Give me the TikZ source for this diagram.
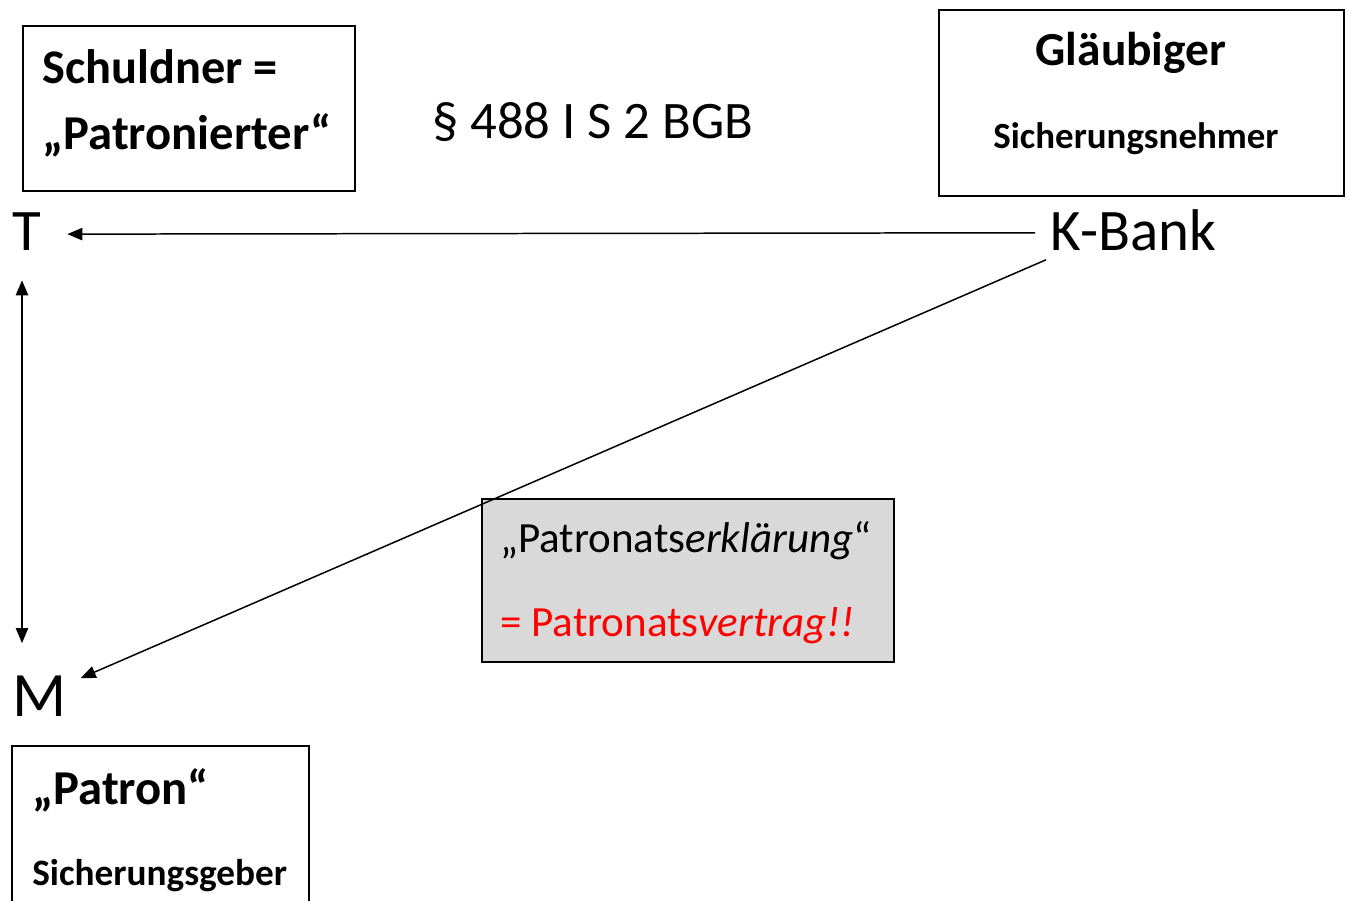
\documentclass[tikz,border=0pt]{standalone}
\usepackage{fontspec}
\setmainfont{Carlito}
\usetikzlibrary{arrows.meta,calc}

\begin{document}
\begin{tikzpicture}[x=0.02cm,y=-0.02cm,
  box/.style={draw,line width=1.1pt,inner sep=0pt,anchor=north west},
  txt/.style={inner sep=0pt,anchor=base west},
  pfeil/.style={line width=0.85pt,-{Triangle[length=8.5pt,width=7pt]}}]
\def\px{0.02cm}
\clip (0,0) rectangle (1348,900);

\node[box,minimum width=332*\px,minimum height=165*\px] (schuldnerbox) at (22,25) {};
\node[txt,font=\fontsize{27.5}{32}\selectfont\bfseries] (schuldner) at (42,83) {Schuldner =};
\node[txt,font=\fontsize{27.7}{32}\selectfont\bfseries] (patronierter) at (42,149) {„Patronierter“};

\node[txt,font=\fontsize{30}{36}\selectfont] (norm) at (432,138) {§ 488 I S 2 BGB};

\node[box,minimum width=405*\px,minimum height=186*\px] (glaeubigerbox) at (938,9) {};
\node[inner sep=0pt,anchor=base,font=\fontsize{27}{32}\selectfont\bfseries] (glaeubiger) at (1131,65) {Gläubiger};
\node[inner sep=0pt,anchor=base,font=\fontsize{21}{25}\selectfont\bfseries] (nehmer) at (1136,148) {Sicherungsnehmer};

\node[txt,font=\fontsize{33.5}{40}\selectfont] (T) at (12,250) {T};
\node[txt,font=\fontsize{33.5}{40}\selectfont] (kbank) at (1050,250) {K-Bank};
\node[txt,font=\fontsize{36}{42}\selectfont] (M) at (12,716) {M};

\node[box,fill=black!15,minimum width=412*\px,minimum height=163*\px] (erklaerungbox) at (481,498) {};
\node[txt,font=\fontsize{24.5}{30}\selectfont] (erklaerung) at (500,552) {„Patronats\textit{erklärung}“};
\node[txt,font=\fontsize{24.5}{30}\selectfont,text=red] (vertrag) at (500,636) {= Patronats\textit{vertrag!!}};

\node[box,minimum width=297*\px,minimum height=200*\px] (patronbox) at (11,745) {};
\node[txt,font=\fontsize{27.7}{32}\selectfont\bfseries] (patron) at (32,804) {„Patron“};
\node[txt,font=\fontsize{21.2}{25}\selectfont\bfseries] (geber) at (32,885) {Sicherungsgeber};

\draw[pfeil] ($(kbank.west)+(-15,3)$) -- ($(T.east)+(26,3)$);
\draw[pfeil,{Triangle[length=8.5pt,width=7pt]}-{Triangle[length=8.5pt,width=7pt]}] ($(T.south west)+(10,30)$) -- ($(M.north west)+(10,-32)$);
\draw[pfeil] ($(kbank.south west)+(-4,9)$) -- ($(M.north east)+(14,3)$);
\end{tikzpicture}
\end{document}
